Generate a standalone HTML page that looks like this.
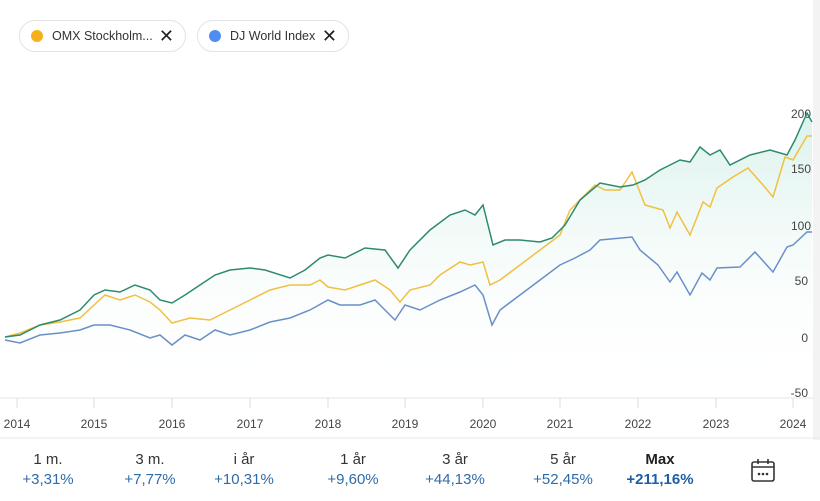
<!DOCTYPE html>
<html><head><meta charset="utf-8"><style>
body{margin:0;width:820px;height:501px;background:#fff;font-family:"Liberation Sans",sans-serif;overflow:hidden;position:relative}
.chip{position:absolute;top:20px;height:32px;border:1px solid #e3e3e3;border-radius:17px;box-sizing:border-box;font-size:12.5px;color:#333;display:flex;align-items:center;white-space:nowrap}
.dot{width:12px;height:12px;border-radius:50%;margin:0 9px 0 11px}
.x{margin-left:auto;margin-right:11px;font-size:18px;color:#222}
.p{position:absolute;top:450px;width:90px;text-align:center;font-size:15px;color:#333;line-height:20px}
.p span{color:#2f6ba8;display:block}
</style></head><body>
<div class="chip" style="left:19px;width:167px"><div class="dot" style="background:#f5b01a"></div>OMX Stockholm...<span class="x">✕</span></div>
<div class="chip" style="left:197px;width:152px"><div class="dot" style="background:#4f8ef0"></div>DJ World Index<span class="x">✕</span></div>
<svg width="820" height="501" style="position:absolute;left:0;top:0">
<defs><linearGradient id="g" x1="0" y1="0" x2="0" y2="1"><stop offset="0" stop-color="#d6f0ea" stop-opacity=".9"/><stop offset="1" stop-color="#fff" stop-opacity="0"/></linearGradient></defs>
<rect x="813" y="0" width="7" height="440" fill="#f3f3f3"/>
<polygon fill="url(#g)" points="5,337 20,335 40,325 60,320 80,310 94,295 105,290 120,292 135,285 150,290 160,300 172,303 185,295 200,285 215,275 230,270 250,268 265,270 290,278 305,270 320,258 328,255 345,258 365,248 385,250 398,268 410,250 430,230 450,215 465,210 475,215 483,205 493,245 505,240 520,240 540,242 552,238 565,225 580,200 600,183 620,187 633,185 645,180 660,170 680,160 690,162 700,147 710,155 720,150 730,165 750,155 770,150 787,155 795,140 807,113 812,122 812,398 5,398"/>
<line x1="0" y1="398" x2="813" y2="398" stroke="#e6e6e6"/>
<g stroke="#ddd"><line x1="17" y1="398" x2="17" y2="408"/><line x1="94" y1="398" x2="94" y2="408"/><line x1="172" y1="398" x2="172" y2="408"/><line x1="250" y1="398" x2="250" y2="408"/><line x1="328" y1="398" x2="328" y2="408"/><line x1="405" y1="398" x2="405" y2="408"/><line x1="483" y1="398" x2="483" y2="408"/><line x1="560" y1="398" x2="560" y2="408"/><line x1="638" y1="398" x2="638" y2="408"/><line x1="716" y1="398" x2="716" y2="408"/><line x1="793" y1="398" x2="793" y2="408"/></g>
<line x1="0" y1="438" x2="820" y2="438" stroke="#e8e8e8"/>
<g font-size="12" fill="#444" text-anchor="middle"><text x="17" y="428">2014</text><text x="94" y="428">2015</text><text x="172" y="428">2016</text><text x="250" y="428">2017</text><text x="328" y="428">2018</text><text x="405" y="428">2019</text><text x="483" y="428">2020</text><text x="560" y="428">2021</text><text x="638" y="428">2022</text><text x="716" y="428">2023</text><text x="793" y="428">2024</text></g>
<g font-size="12" fill="#444" text-anchor="end"><text x="811" y="118">200</text><text x="811" y="173">150</text><text x="811" y="230">100</text><text x="808" y="285">50</text><text x="808" y="342">0</text><text x="808" y="397">-50</text></g>
<polyline fill="none" stroke="#f0c040" stroke-width="1.5" points="5,337 20,333 40,325 60,322 80,318 94,305 105,295 120,300 135,295 150,302 160,310 172,323 190,318 210,320 230,310 250,300 270,290 290,285 310,285 320,280 328,287 345,290 360,285 375,280 390,290 400,302 410,290 430,285 440,275 460,262 470,265 483,262 490,285 500,280 520,265 540,250 560,235 570,210 580,200 595,185 605,190 620,190 632,172 645,205 663,210 670,228 677,212 690,235 703,202 710,207 717,188 733,177 748,168 763,185 773,197 785,157 793,160 807,136 812,136"/>
<polyline fill="none" stroke="#6a8fc8" stroke-width="1.5" points="5,340 20,343 40,335 60,333 80,330 94,325 110,325 130,330 150,338 160,335 172,345 185,335 200,340 215,330 230,335 250,330 270,322 290,318 310,310 328,300 340,305 360,305 375,300 385,310 395,320 405,305 420,310 440,300 460,292 475,285 483,295 492,325 500,310 520,295 540,280 560,265 575,258 590,250 600,240 632,237 640,250 658,265 670,282 677,272 690,295 702,273 710,280 717,268 740,267 755,252 773,272 787,247 793,245 807,232 812,232"/>
<polyline fill="none" stroke="#2e8a6e" stroke-width="1.5" points="5,337 20,335 40,325 60,320 80,310 94,295 105,290 120,292 135,285 150,290 160,300 172,303 185,295 200,285 215,275 230,270 250,268 265,270 290,278 305,270 320,258 328,255 345,258 365,248 385,250 398,268 410,250 430,230 450,215 465,210 475,215 483,205 493,245 505,240 520,240 540,242 552,238 565,225 580,200 600,183 620,187 633,185 645,180 660,170 680,160 690,162 700,147 710,155 720,150 730,165 750,155 770,150 787,155 795,140 807,113 812,122"/>
<g transform="translate(752,459)" fill="none" stroke="#333" stroke-width="1.6"><rect x="0" y="3" width="22" height="19" rx="2"/><line x1="0" y1="8" x2="22" y2="8"/><line x1="6" y1="0" x2="6" y2="5"/><line x1="16" y1="0" x2="16" y2="5"/><g fill="#333" stroke="none"><circle cx="7" cy="15" r="1.3"/><circle cx="11" cy="15" r="1.3"/><circle cx="15" cy="15" r="1.3"/></g></g>
</svg>
<div class="p" style="left:3px">1 m.<span>+3,31%</span></div>
<div class="p" style="left:105px">3 m.<span>+7,77%</span></div>
<div class="p" style="left:199px">i år<span>+10,31%</span></div>
<div class="p" style="left:308px">1 år<span>+9,60%</span></div>
<div class="p" style="left:410px">3 år<span>+44,13%</span></div>
<div class="p" style="left:518px">5 år<span>+52,45%</span></div>
<div class="p" style="left:615px;font-weight:bold;color:#222">Max<span style="color:#1f5fa0">+211,16%</span></div>
</body></html>
